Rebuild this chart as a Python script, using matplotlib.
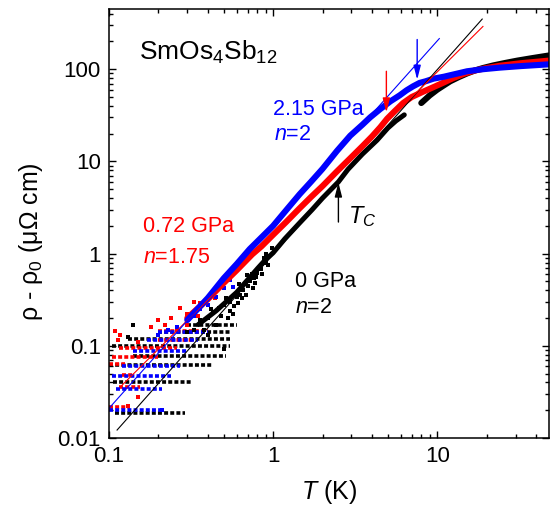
import numpy as np
import matplotlib
matplotlib.use('Agg')
import matplotlib.pyplot as plt
from matplotlib.ticker import FixedLocator, NullFormatter, LogLocator

plt.rcParams['font.family'] = ['Liberation Sans', 'DejaVu Sans']
plt.rcParams['mathtext.fontset'] = 'custom'
plt.rcParams['mathtext.rm'] = 'Liberation Sans'
plt.rcParams['mathtext.it'] = 'Liberation Sans:italic'

BLUE = '#0000ff'
RED = '#ff0000'
BLACK = '#000000'

# ---- data ----
# 0 GPa (black)
T_p0 = [0.35, 0.45, 0.6, 0.7, 0.81, 0.9, 1.0, 1.18, 1.45, 1.73, 2.0, 2.5,
        2.86, 3.5, 4.3, 5.0, 5.6, 6.3]
rho_p0 = [0.17, 0.24, 0.38, 0.52, 0.70, 0.86, 1.02, 1.45, 2.15, 3.0, 4.0, 6.0,
          8.2, 12, 17, 23, 27.5, 32]
T_p0_hi = [8.0, 9.0, 10, 11, 12, 13.5, 15.2, 17, 19, 22, 26, 30.8, 38, 48]
rho_p0_hi = [43, 52, 60, 67, 74, 82, 90, 97, 103, 110, 117, 124, 132, 141]
T_p0_pts = [0.14, 0.13, 0.36, 0.40, 0.43, 0.47, 0.50, 0.55, 0.57, 0.60, 0.63, 0.66,
            0.70, 0.72, 0.76, 0.80, 0.84, 0.87, 0.90, 0.50, 0.65, 0.75, 0.85, 0.45,
            0.55, 0.38, 0.42, 0.48, 0.52, 0.58, 0.62, 0.68, 0.74, 0.78, 0.88, 0.93,
            0.98, 0.53, 0.61, 0.69, 0.79, 0.90, 0.40, 0.33, 0.30]
rho_p0_pts = [0.168, 0.124, 0.19, 0.20, 0.23, 0.26, 0.093, 0.30, 0.22, 0.34, 0.36, 0.40,
              0.45, 0.51, 0.55, 0.61, 0.68, 0.79, 0.80, 0.28, 0.33, 0.42, 0.60, 0.17,
              0.24, 0.15, 0.25, 0.21, 0.33, 0.27, 0.47, 0.36, 0.60, 0.48, 0.90, 0.75,
              1.15, 0.20, 0.29, 0.58, 0.56, 1.00, 0.13, 0.15, 0.14]
# quantised low-T levels: level, T start, T end
lev_p0 = [0.0185, 0.040, 0.0615, 0.078, 0.10, 0.12, 0.14, 0.17]
t0_p0 = [0.109, 0.106, 0.10, 0.14, 0.105, 0.13, 0.20, 0.30]
t1_p0 = [0.29, 0.32, 0.43, 0.52, 0.55, 0.55, 0.55, 0.60]

# 0.72 GPa (red)
T_p1 = [0.3, 0.4, 0.5, 0.6, 0.745, 0.85, 1.0, 1.2, 1.45, 1.7, 2.0, 2.45, 2.95,
        3.5, 4.0, 4.5, 4.95, 5.5, 6.2, 7.0, 8.2, 9.5, 11, 12.5, 14.5, 16.6, 20,
        24, 32, 48]
rho_p1 = [0.20, 0.32, 0.48, 0.66, 0.98, 1.2, 1.6, 2.2, 3.1, 4.1, 5.4, 7.8, 10.8,
          14.6, 18.6, 23.5, 29, 35, 43, 50, 57, 64, 72, 80, 89, 96, 103,
          109, 116, 124]
T_p1_pts = [0.109, 0.113, 0.117, 0.15, 0.18, 0.20, 0.22, 0.24, 0.27, 0.30, 0.33,
            0.36, 0.41, 0.44, 0.47, 0.50, 0.26, 0.30, 0.35, 0.15, 0.13]
rho_p1_pts = [0.145, 0.115, 0.13, 0.11, 0.16, 0.19, 0.17, 0.20, 0.26, 0.22, 0.30,
              0.29, 0.35, 0.33, 0.43, 0.51, 0.15, 0.17, 0.21, 0.028, 0.022]
lev_p1 = [0.0215, 0.036, 0.048, 0.064, 0.076, 0.094, 0.115, 0.145]
t0_p1 = [0.10, 0.115, 0.12, 0.10, 0.105, 0.115, 0.20, 0.20]
t1_p1 = [0.135, 0.155, 0.14, 0.125, 0.20, 0.26, 0.33, 0.40]

# 2.15 GPa (blue)
T_p2 = [0.3, 0.4, 0.5, 0.6, 0.72, 0.85, 1.0, 1.2, 1.45, 1.7, 2.0, 2.45, 2.95,
        3.5, 3.9, 4.5, 5.2, 5.9, 6.5, 7.1, 7.8, 8.5, 9.5, 11, 13, 15.2, 19,
        24, 32, 48]
rho_p2 = [0.19, 0.33, 0.54, 0.77, 1.12, 1.5, 2.0, 2.95, 4.4, 6.0, 8.3, 13.0, 19.0,
          25, 30, 37, 45, 52, 59, 65, 71, 74, 79, 83, 89, 95, 100,
          104, 108, 113]
T_p2_pts = [0.20, 0.23, 0.26, 0.30, 0.33, 0.36, 0.40, 0.45, 0.50, 0.57, 0.55, 0.21]
rho_p2_pts = [0.13, 0.15, 0.16, 0.19, 0.21, 0.25, 0.28, 0.34, 0.42, 0.43, 0.52, 0.02]
lev_p2 = [0.020, 0.034, 0.047, 0.060, 0.088, 0.115, 0.14]
t0_p2 = [0.10, 0.11, 0.105, 0.12, 0.14, 0.17, 0.20]
t1_p2 = [0.21, 0.21, 0.24, 0.27, 0.30, 0.35, 0.40]

# power-law fits (end points of the thin lines)
fit_T_p0 = [0.112, 18.8]
fit_rho_p0 = [0.0122, 350]
fit_T_p1 = [0.117, 19.0]
fit_rho_p1 = [0.0357, 291]
fit_T_p2 = [0.1, 10.3]
fit_rho_p2 = [0.021, 215]

# arrows: T, rho start, rho end
arr_red = (4.9, 95, 34)
arr_blue = (7.55, 210, 77)
arr_tc = (2.5, 2.2, 5.9)

fig = plt.figure(figsize=(5.54, 5.12), dpi=100)
ax = fig.add_axes([109 / 554, 74 / 512, 440 / 554, 429 / 512])
ax.set_xscale('log')
ax.set_yscale('log')

# low-T quantised data rows
dash = (0, (1.1, 0.6))
for lev, t0, t1, col in [(lev_p0, t0_p0, t1_p0, BLACK),
                         (lev_p1, t0_p1, t1_p1, RED),
                         (lev_p2, t0_p2, t1_p2, BLUE)]:
    ax.hlines(lev, t0, t1, colors=col, linewidth=2.6, linestyles=[dash])

ax.plot(T_p0_pts, rho_p0_pts, 's', color=BLACK, ms=2.6, mew=0)
ax.plot(T_p1_pts, rho_p1_pts, 's', color=RED, ms=3.2, mew=0)
ax.plot(T_p2_pts, rho_p2_pts, 's', color=BLUE, ms=3.2, mew=0)

# dense data curves
style = dict(solid_capstyle='round', solid_joinstyle='round')
ax.plot(T_p0, rho_p0, '-', color=BLACK, lw=3.6, **style)
ax.plot(T_p0_hi, rho_p0_hi, '-', color=BLACK, lw=4.4, **style)
ax.plot(T_p1, rho_p1, '-', color=RED, lw=4.4, **style)
ax.plot(T_p2, rho_p2, '-', color=BLUE, lw=4.4, **style)

# power-law fit lines
ax.plot(fit_T_p0, fit_rho_p0, '-', color=BLACK, lw=0.8)
ax.plot(fit_T_p1, fit_rho_p1, '-', color=RED, lw=0.8)
ax.plot(fit_T_p2, fit_rho_p2, '-', color=BLUE, lw=0.8)

for (t, r0, r1), col in [(arr_red, RED), (arr_blue, BLUE), (arr_tc, BLACK)]:
    ax.annotate('', xy=(t, r1), xytext=(t, r0),
                arrowprops=dict(arrowstyle='-|>,head_length=0.7,head_width=0.18',
                                color=col, lw=1.0, mutation_scale=12,
                                shrinkA=0, shrinkB=0))

ax.set_xlim(0.1, 48)
ax.set_ylim(0.01, 450)

ax.xaxis.set_major_locator(FixedLocator([0.1, 1, 10]))
ax.set_xticklabels(['0.1', '1', '10'])
ax.yaxis.set_major_locator(FixedLocator([0.01, 0.1, 1, 10, 100]))
ax.set_yticklabels(['0.01', '0.1', '1', '10', '100'])
ax.xaxis.set_minor_locator(LogLocator(base=10, subs=np.arange(2, 10)))
ax.yaxis.set_minor_locator(LogLocator(base=10, subs=np.arange(2, 10)))
ax.xaxis.set_minor_formatter(NullFormatter())
ax.yaxis.set_minor_formatter(NullFormatter())

ax.tick_params(which='both', direction='in', top=True, right=True, width=1.0)
ax.tick_params(which='major', length=5, labelsize=16, pad=6)
ax.tick_params(which='minor', length=3)
for sp in ax.spines.values():
    sp.set_linewidth(1.1)

ax.set_xlabel('$T$ (K)', fontsize=18, labelpad=8)
fig.text(31 / 554, 1 - 242 / 512, 'ρ - ρ$_0$ (μΩ cm)', rotation=90,
         ha='center', va='center', fontsize=18)

ax.text(0.068, 0.881, 'SmOs$_4$Sb$_{12}$', transform=ax.transAxes, fontsize=19)
ax.text(0.373, 0.753, '2.15 GPa', transform=ax.transAxes, fontsize=15.5, color=BLUE)
ax.text(0.375, 0.695, '$n$=2', transform=ax.transAxes, fontsize=15.5, color=BLUE)
ax.text(0.077, 0.480, '0.72 GPa', transform=ax.transAxes, fontsize=15.5, color=RED)
ax.text(0.077, 0.408, '$n$=1.75', transform=ax.transAxes, fontsize=15.5, color=RED)
ax.text(0.423, 0.352, '0 GPa', transform=ax.transAxes, fontsize=15.5)
ax.text(0.423, 0.291, '$n$=2', transform=ax.transAxes, fontsize=15.5)
ax.text(0.543, 0.501, '$T_C$', transform=ax.transAxes, fontsize=17)

fig.savefig('out.png', dpi=100)
